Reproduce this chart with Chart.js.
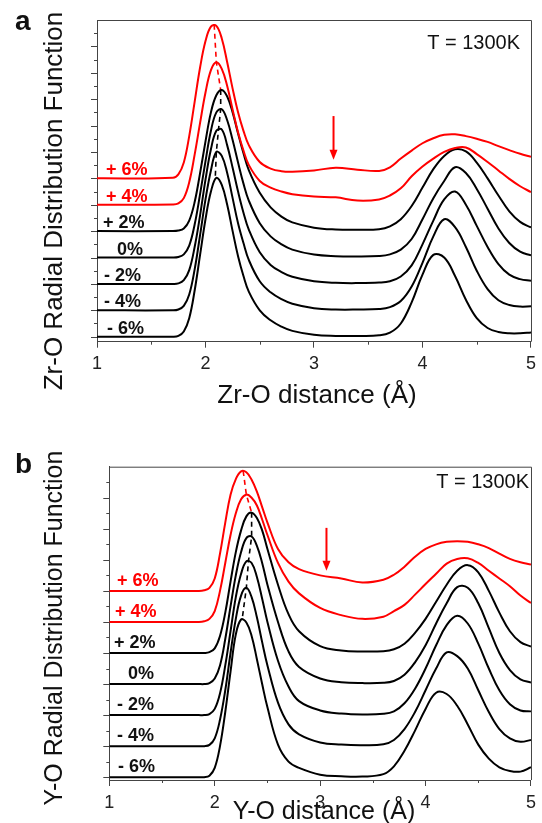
<!DOCTYPE html>
<html>
<head>
<meta charset="utf-8">
<script src="https://cdn.jsdelivr.net/npm/chart.js@4.4.1/dist/chart.umd.min.js"></script>
<style>
body { margin: 0; background: #fff; }
canvas { position: absolute; left: 0; }
#chartA { top: 0; }
#chartB { top: 412px; }
</style>
</head>
<body>
<canvas id="chartA" width="542" height="412"></canvas>
<canvas id="chartB" width="542" height="411"></canvas>
<script>
// strain levels, top curve first
const strainLabels = ['+ 6%', '+ 4%', '+ 2%', '0%', '- 2%', '- 4%', '- 6%'];
const offsets = [6, 5, 4, 3, 2, 1, 0];
const lineColors = ['#ff0000', '#ff0000', '#000000', '#000000', '#000000', '#000000', '#000000'];
const xTicks = [1, 2, 3, 4, 5];

// panel a : Zr-O, heights above each curve's own baseline
const zrX = [1.0, 1.7, 1.75, 1.8, 1.85, 1.9, 1.95, 2.0, 2.05, 2.1, 2.15, 2.2, 2.25, 2.3, 2.35, 2.4, 2.5, 2.6, 2.7, 2.8,
             3.0, 3.2, 3.4, 3.6, 3.7, 3.8, 3.9, 4.0, 4.1, 4.2, 4.3, 4.4, 4.5, 4.6, 4.7, 4.8, 4.9, 5.0];
const zrP6 = [0, 0.02, 0.15, 0.6, 1.6, 2.9, 4.2, 5.2, 5.75, 5.78, 5.3, 4.4, 3.4, 2.5, 1.8, 1.25, 0.62, 0.37, 0.27, 0.25,
              0.3, 0.4, 0.33, 0.28, 0.42, 0.75, 1.05, 1.33, 1.52, 1.65, 1.67, 1.6, 1.5, 1.38, 1.22, 1.07, 0.93, 0.82];
const zrP4 = [0, 0.01, 0.05, 0.25, 0.85, 1.9, 3.1, 4.25, 5.1, 5.4, 5.15, 4.5, 3.6, 2.75, 2.05, 1.5, 0.9, 0.65, 0.5, 0.4,
              0.31, 0.28, 0.16, 0.2, 0.35, 0.62, 1.08, 1.45, 1.75, 2.0, 2.15, 2.17, 1.92, 1.62, 1.3, 0.98, 0.7, 0.48];
const zrP2 = [0, 0, 0.02, 0.1, 0.4, 1.1, 2.2, 3.4, 4.5, 5.15, 5.35, 5.1, 4.5, 3.7, 2.95, 2.3, 1.45, 0.9, 0.55, 0.33,
              0.13, 0.06, 0.05, 0.07, 0.18, 0.45, 0.95, 1.65, 2.35, 2.85, 3.1, 3.02, 2.6, 2.0, 1.35, 0.75, 0.35, 0.14];
const zr0  = [0, 0, 0.02, 0.12, 0.45, 1.25, 2.4, 3.65, 4.8, 5.5, 5.62, 5.2, 4.45, 3.6, 2.8, 2.15, 1.3, 0.8, 0.5, 0.3,
              0.11, 0.05, 0.04, 0.06, 0.12, 0.3, 0.7, 1.45, 2.25, 2.9, 3.42, 3.2, 2.6, 1.85, 1.1, 0.55, 0.22, 0.08];
const zrM2 = [0, 0, 0.02, 0.14, 0.52, 1.4, 2.6, 3.95, 5.1, 5.8, 5.85, 5.25, 4.4, 3.5, 2.7, 2.05, 1.2, 0.72, 0.45, 0.27,
              0.1, 0.04, 0.03, 0.05, 0.1, 0.28, 0.7, 1.5, 2.4, 3.2, 3.5, 3.0, 2.2, 1.4, 0.75, 0.35, 0.18, 0.12];
const zrM4 = [0, 0, 0.03, 0.17, 0.6, 1.55, 2.85, 4.2, 5.3, 6.0, 5.85, 5.2, 4.25, 3.3, 2.55, 1.9, 1.1, 0.68, 0.42, 0.25,
              0.08, 0.03, 0.03, 0.05, 0.12, 0.35, 0.9, 1.8, 2.8, 3.45, 3.15, 2.4, 1.5, 0.8, 0.38, 0.2, 0.14, 0.15];
const zrM6 = [0, 0, 0.03, 0.2, 0.7, 1.75, 3.1, 4.45, 5.5, 6.02, 5.75, 5.0, 4.0, 3.05, 2.3, 1.7, 1.0, 0.62, 0.38, 0.22,
              0.07, 0.03, 0.03, 0.05, 0.15, 0.5, 1.3, 2.35, 3.1, 3.0, 2.3, 1.4, 0.7, 0.33, 0.18, 0.13, 0.13, 0.16];
// first-peak tops joined by the dashed guide
const zrPeakX = [2.08, 2.1, 2.14, 2.14, 2.12, 2.1, 2.09];
const zrPeakH = [5.82, 5.4, 5.35, 5.62, 5.85, 6.0, 6.02];

// panel b : Y-O
const yoX = [1.0, 1.85, 1.9, 1.95, 2.0, 2.05, 2.1, 2.15, 2.2, 2.25, 2.3, 2.35, 2.4, 2.45, 2.5, 2.6, 2.7, 2.8,
             3.0, 3.2, 3.4, 3.6, 3.7, 3.8, 3.9, 4.0, 4.1, 4.2, 4.3, 4.4, 4.5, 4.6, 4.7, 4.8, 4.9, 5.0];
const yoP6 = [0, 0, 0.02, 0.1, 0.4, 1.2, 2.2, 3.1, 3.6, 3.85, 3.82, 3.58, 3.2, 2.7, 2.2, 1.35, 0.92, 0.7,
              0.5, 0.4, 0.27, 0.36, 0.52, 0.78, 1.1, 1.35, 1.5, 1.58, 1.6, 1.58, 1.5, 1.38, 1.2, 1.03, 0.92, 0.85];
const yoP4 = [0, 0, 0.02, 0.1, 0.35, 1.0, 1.9, 2.8, 3.5, 3.95, 4.1, 4.0, 3.75, 3.3, 2.8, 1.9, 1.3, 0.92,
              0.45, 0.22, 0.1, 0.17, 0.35, 0.55, 0.88, 1.22, 1.55, 1.88, 2.03, 2.05, 1.9, 1.65, 1.4, 1.15, 0.85, 0.61];
const yoP2 = [0, 0, 0, 0.03, 0.15, 0.55, 1.3, 2.3, 3.25, 3.95, 4.4, 4.52, 4.35, 3.95, 3.35, 2.2, 1.25, 0.7,
              0.22, 0.08, 0.05, 0.06, 0.12, 0.3, 0.65, 1.1, 1.65, 2.2, 2.65, 2.83, 2.6, 2.0, 1.3, 0.7, 0.35, 0.21];
const yo0  = [0, 0, 0, 0.03, 0.18, 0.6, 1.45, 2.5, 3.5, 4.25, 4.7, 4.75, 4.45, 3.9, 3.2, 2.0, 1.05, 0.55,
              0.18, 0.06, 0.03, 0.04, 0.1, 0.3, 0.7, 1.25, 1.95, 2.6, 3.12, 3.1, 2.6, 1.8, 1.0, 0.45, 0.15, 0.05];
const yoM2 = [0, 0, 0, 0.03, 0.2, 0.7, 1.6, 2.7, 3.8, 4.55, 4.95, 4.9, 4.45, 3.75, 3.0, 1.75, 0.92, 0.45,
              0.15, 0.05, 0.02, 0.04, 0.12, 0.38, 0.85, 1.5, 2.25, 2.9, 3.2, 2.95, 2.3, 1.5, 0.8, 0.35, 0.15, 0.12];
const yoM4 = [0, 0, 0, 0.04, 0.25, 0.85, 1.8, 3.0, 4.1, 4.85, 5.1, 4.8, 4.15, 3.35, 2.6, 1.4, 0.7, 0.38,
              0.12, 0.05, 0.03, 0.06, 0.2, 0.55, 1.1, 1.8, 2.5, 3.02, 2.9, 2.5, 1.8, 1.1, 0.55, 0.25, 0.14, 0.2];
const yoM6 = [0, 0, 0, 0.05, 0.3, 1.0, 2.1, 3.4, 4.6, 5.08, 4.98, 4.55, 3.8, 3.0, 2.25, 1.05, 0.5, 0.3,
              0.08, 0.03, 0.02, 0.1, 0.35, 0.85, 1.5, 2.2, 2.72, 2.68, 2.3, 1.7, 1.05, 0.6, 0.32, 0.2, 0.18, 0.32];
const yoPeakX = [2.27, 2.3, 2.35, 2.35, 2.32, 2.3, 2.26];
const yoPeakH = [3.86, 4.1, 4.52, 4.75, 4.95, 5.1, 5.08];

const FONT = "'Liberation Sans', Arial, sans-serif";
const RED = '#ff0000';

function makeDatasets(xs, curves, peakX, peakH) {
  const sets = curves.map((vals, i) => ({
    data: xs.map((x, k) => ({ x: x, y: vals[k] + offsets[i] })),
    borderColor: lineColors[i],
    borderWidth: 2,
    pointRadius: 0,
    tension: 0.4
  }));
  const guide = peakX.map((x, k) => ({ x: x, y: peakH[k] + offsets[k] }));
  sets.push({ data: guide.slice(0, 3), borderColor: RED, borderWidth: 1.6, borderDash: [5, 4], pointRadius: 0, tension: 0 });
  sets.push({ data: guide.slice(2), borderColor: '#000000', borderDash: [5, 4], borderWidth: 1.6, pointRadius: 0, tension: 0 });
  return sets;
}

// frame, ticks, strain labels, arrow and texts
const deco = {
  id: 'deco',
  afterDraw(chart, args, o) {
    const { ctx, chartArea: ca, scales: { x, y } } = chart;
    ctx.save();
    ctx.strokeStyle = '#444';
    ctx.lineWidth = 1;
    ctx.beginPath();
    ctx.moveTo(ca.left, ca.top + 0.5);
    ctx.lineTo(ca.right + 0.5, ca.top + 0.5);
    ctx.lineTo(ca.right + 0.5, ca.bottom);
    for (let v = 0; v < y.max - 0.01; v += 0.5) {
      const py = Math.round(y.getPixelForValue(v)) + 0.5;
      const len = (v % 1 === 0) ? 6 : 3;
      ctx.moveTo(ca.left - len, py);
      ctx.lineTo(ca.left, py);
    }
    for (let v = 1.5; v < 5; v += 1) {
      const px = Math.round(x.getPixelForValue(v)) + 0.5;
      ctx.moveTo(px, ca.bottom);
      ctx.lineTo(px, ca.bottom + 3);
    }
    ctx.stroke();

    // strain labels
    ctx.font = 'bold 18px ' + FONT;
    ctx.textAlign = 'left';
    ctx.textBaseline = 'alphabetic';
    strainLabels.forEach((t, i) => {
      ctx.fillStyle = lineColors[i] === RED ? RED : '#111';
      ctx.fillText(t, o.labelX[i], y.getPixelForValue(offsets[i]) - o.labelGap);
    });

    // arrow
    const ax = x.getPixelForValue(o.arrow[0]);
    const a0 = y.getPixelForValue(o.arrow[1]);
    const a1 = y.getPixelForValue(o.arrow[2]);
    ctx.strokeStyle = RED;
    ctx.fillStyle = RED;
    ctx.lineWidth = 2;
    ctx.beginPath();
    ctx.moveTo(ax, a0);
    ctx.lineTo(ax, a1 - 8);
    ctx.stroke();
    ctx.beginPath();
    ctx.moveTo(ax - 4, a1 - 10);
    ctx.lineTo(ax + 4, a1 - 10);
    ctx.lineTo(ax, a1);
    ctx.closePath();
    ctx.fill();

    ctx.fillStyle = '#111';
    ctx.font = '20px ' + FONT;
    ctx.textAlign = 'right';
    ctx.fillText('T = 1300K', o.temp[0], o.temp[1]);

    ctx.font = 'bold 28px ' + FONT;
    ctx.textAlign = 'left';
    ctx.fillText(o.letter, o.letterPos[0], o.letterPos[1]);

    ctx.font = o.titleSize + 'px ' + FONT;
    ctx.textAlign = 'center';
    ctx.fillText(o.xTitle, o.xTitlePos[0], o.xTitlePos[1]);
    ctx.translate(o.yTitlePos[0], o.yTitlePos[1]);
    ctx.rotate(-Math.PI / 2);
    ctx.fillText(o.yTitle, 0, 0);
    ctx.restore();
  }
};

function makeChart(id, xs, curves, peakX, peakH, yMin, yMax, box, decoOpts) {
  return new Chart(document.getElementById(id), {
    type: 'line',
    data: { datasets: makeDatasets(xs, curves, peakX, peakH) },
    options: {
      responsive: false,
      animation: false,
      devicePixelRatio: 1,
      events: [],
      layout: { padding: { top: box.top, right: box.right, left: 0, bottom: 0 } },
      plugins: { legend: { display: false }, tooltip: { enabled: false }, deco: decoOpts },
      scales: {
        x: {
          type: 'linear', min: 1, max: 5,
          afterBuildTicks: s => { s.ticks = xTicks.map(v => ({ value: v })); },
          ticks: { color: '#222', font: { family: FONT, size: 18 }, padding: 6, maxRotation: 0 },
          grid: { drawOnChartArea: false, tickLength: 6, color: '#444' },
          border: { color: '#444' },
          afterFit: s => { s.height = box.xHeight; }
        },
        y: {
          type: 'linear', min: yMin, max: yMax,
          ticks: { display: false },
          grid: { display: false },
          border: { color: '#444' },
          afterFit: s => { s.width = box.left; }
        }
      }
    },
    plugins: [deco]
  });
}

makeChart('chartA', zrX, [zrP6, zrP4, zrP2, zr0, zrM2, zrM4, zrM6], zrPeakX, zrPeakH, -0.19, 12.0,
  { top: 20, right: 4.3, left: 97, xHeight: 70.3 },
  { labelX: [106, 106, 103, 117, 104, 104, 107], labelGap: 3, arrow: [3.18, 8.36, 6.7],
    temp: [520, 49], letter: 'a', letterPos: [15, 30], titleSize: 26,
    xTitle: 'Zr-O distance (Å)', xTitlePos: [317, 403],
    yTitle: 'Zr-O Radial Distribution Function', yTitlePos: [62, 201] });

makeChart('chartB', yoX, [yoP6, yoP4, yoP2, yo0, yoM2, yoM4, yoM6], yoPeakX, yoPeakH, -0.09, 10.0,
  { top: 54.7, right: 3.7, left: 109.3, xHeight: 43 },
  { labelX: [117, 115, 114, 128, 117, 117, 118], labelGap: 5, arrow: [3.06, 8.03, 6.65],
    temp: [529, 76], letter: 'b', letterPos: [15, 61], titleSize: 25,
    xTitle: 'Y-O distance (Å)', xTitlePos: [324, 407],
    yTitle: 'Y-O Radial Distribution Function', yTitlePos: [62, 216] });
</script>
</body>
</html>
